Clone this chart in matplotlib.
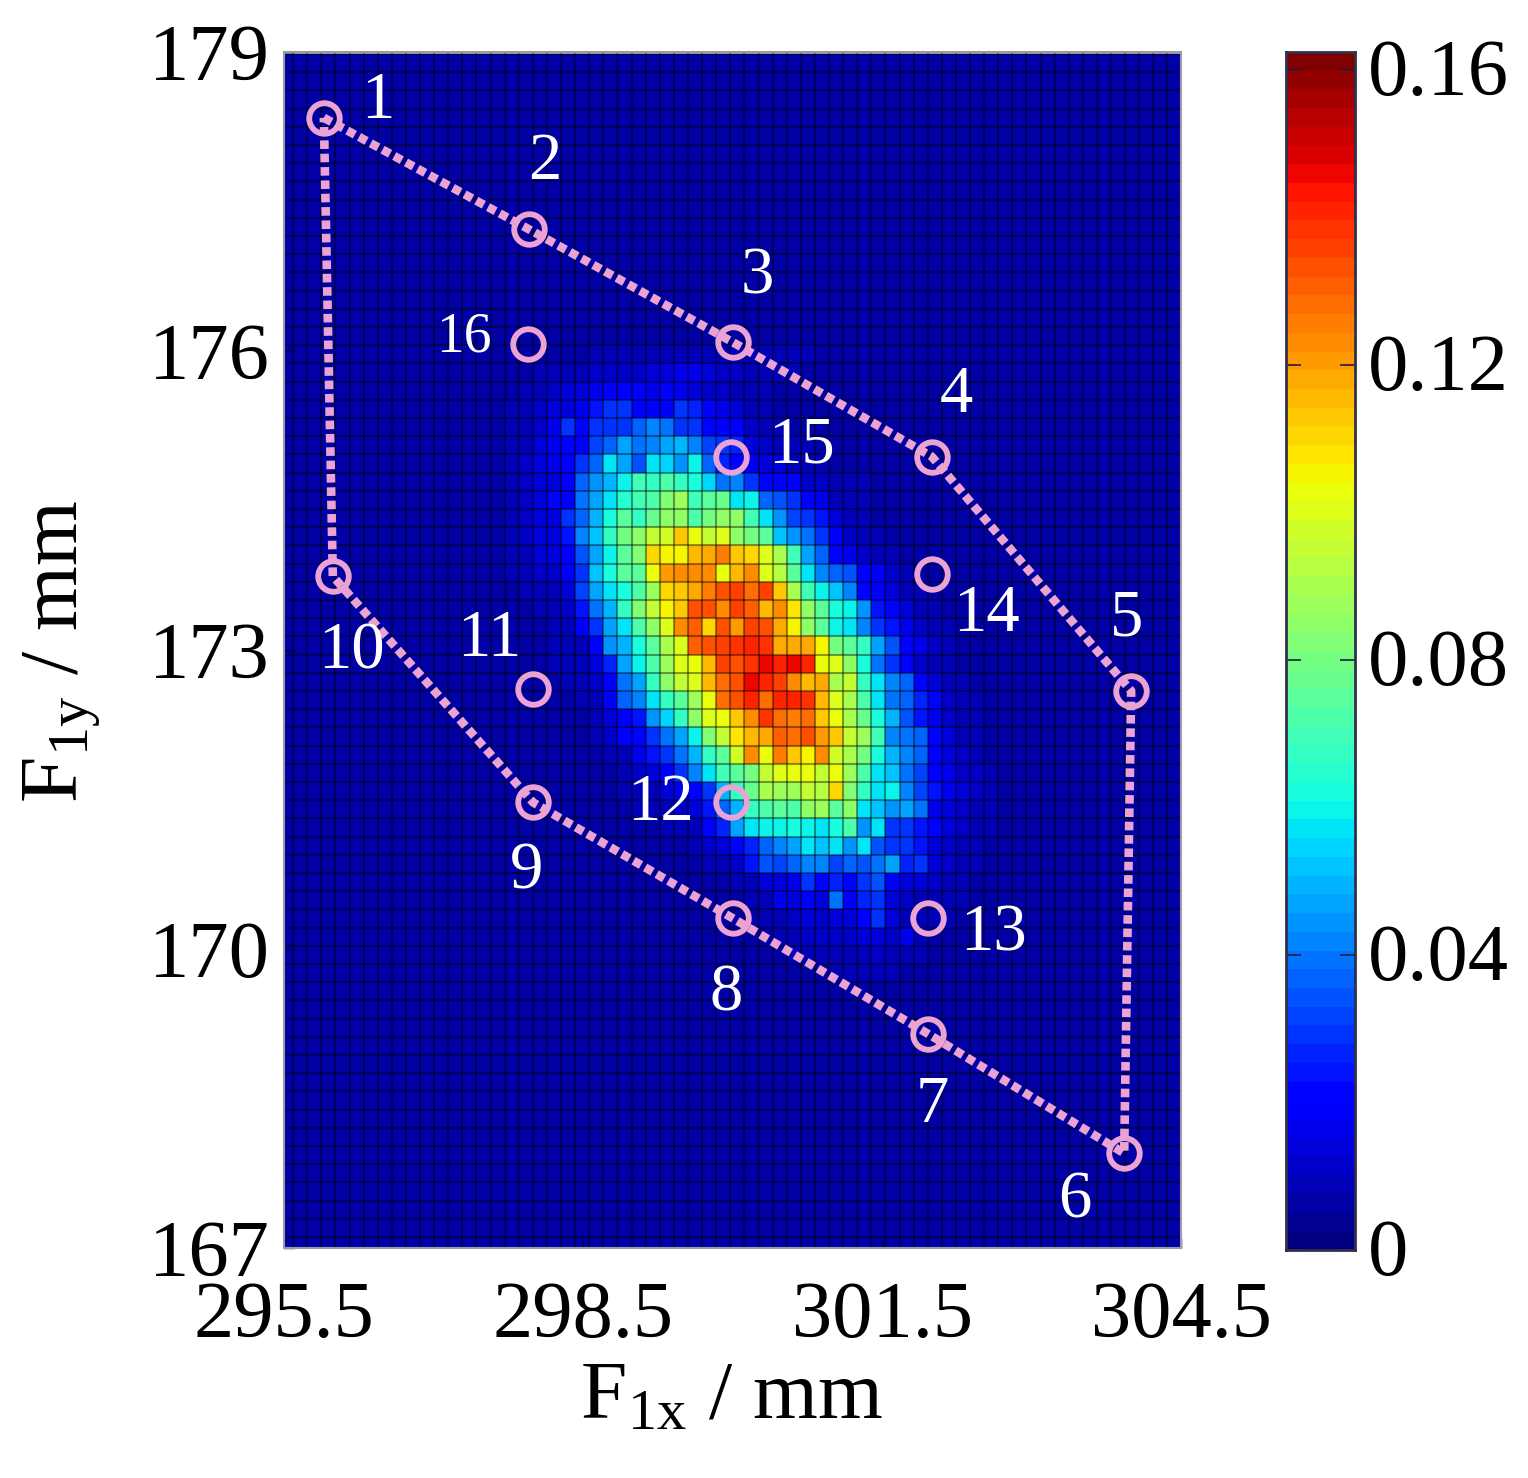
#!/usr/bin/env python3
import numpy as np
import matplotlib
matplotlib.use("Agg")
import matplotlib.pyplot as plt
from matplotlib.transforms import ScaledTranslation

W, H = 1528, 1478
PINK = "#eba3d3"

# measured points, numbered 1..16
node_x = [295.90, 297.96, 300.00, 302.00, 304.00, 303.93, 301.96, 300.00,
          298.00, 295.99, 298.00, 299.98, 301.96, 302.00, 299.98, 297.95]
node_y = [178.34, 177.22, 176.09, 174.94, 172.59, 167.95, 169.15, 170.31,
          171.47, 173.74, 172.61, 171.47, 170.31, 173.76, 174.94, 176.07]
outline_count = 10

x_ticks = [295.5, 298.5, 301.5, 304.5]
x_tick_labels = ["295.5", "298.5", "301.5", "304.5"]
y_ticks = [167, 170, 173, 176, 179]
cbar_ticks = [0, 0.04, 0.08, 0.12, 0.16]
cbar_tick_labels = ["0", "0.04", "0.08", "0.12", "0.16"]

color_max = 0.1624
background = 6  # value of all cells away from the blob, in 1e-3

# probability per cell in 1e-3 (top to bottom)
blob_rows = [
    [6,6,6,6,6,6, 7,7,7,8,8,8,9,9,9,9,10,10,10,10,10,9,9,8,8, 6,6,6,6,6,6,6, 6,6,6,6,6,6,6],
    [6,6,6,7,7,8, 10,10,10,11,12,12,12,14,14,16,16,14,12,12,10,9,8,8,7, 6,6,6,6,6,6,6, 6,6,6,6,6,6,6],
    [6,6,7,7,8,10, 12,14,15,16,20,20,18,16,18,16,14,12,12,10,8,8,7,7,6, 6,6,6,6,6,6,6, 6,6,6,6,6,6,6],
    [6,6,7,8,9,11, 14,15,16,25,28,30,18,18,20,28,26,18,16,14,10,8,7,7,6, 6,6,6,6,6,6,6, 6,6,6,6,6,6,6],
    [6,6,7,8,10,12, 16,28,22,30,30,30,36,42,40,28,28,22,20,20,12,9,8,7,7, 6,6,6,6,6,6,6, 6,6,6,6,6,6,6],
    [6,6,7,8,10,13, 16,22,20,32,36,48,40,42,46,50,42,32,30,26,14,12,10,8,8, 7,7,6,6,6,6,6, 6,6,6,6,6,6,6],
    [6,6,7,8,11,14, 16,18,28,38,56,46,34,58,54,44,60,36,26,22,16,14,14,10,10, 8,7,6,6,6,6,6, 6,6,6,6,6,6,6],
    [6,6,7,9,11,14, 14,18,36,44,50,60,70,66,72,66,62,54,40,42,28,22,20,18,12, 12,10,8,8,7,7,6, 6,6,6,6,6,6,6],
    [6,6,7,9,12,14, 22,20,40,48,56,64,70,72,82,88,70,76,78,56,60,36,34,28,18, 16,10,8,8,7,7,6, 6,6,6,6,6,6,6],
    [6,6,7,9,11,14, 15,28,38,50,62,76,68,78,84,84,72,80,86,86,70,58,44,32,28, 24,14,10,8,7,7,6, 6,6,6,6,6,6,6],
    [6,6,7,8,11,14, 15,24,42,52,66,80,86,94,98,112,104,96,100,86,80,74,52,44,40, 28,18,12,10,8,7,7, 6,6,6,6,6,6,6],
    [6,6,6,8,10,13, 15,20,34,46,60,76,82,110,106,106,116,118,126,114,110,100,90,70,48, 38,22,16,12,10,8,7, 6,6,6,6,6,6,6],
    [6,6,6,8,9,12, 12,18,28,52,62,76,76,104,120,124,122,122,102,116,122,100,92,76,58, 42,36,34,18,18,12,8, 7,6,6,6,6,6,6],
    [6,6,6,7,8,10, 10,14,32,46,58,62,72,88,110,112,118,126,134,136,128,136,112,90,70, 60,52,42,22,20,14,10, 8,7,6,6,6,6,6],
    [6,6,6,6,7,8, 8,12,24,40,50,66,82,94,106,114,132,134,122,136,130,116,124,108,86, 74,62,60,44,24,22,14, 10,8,7,6,6,6,6],
    [6,6,6,6,6,7, 8,10,20,28,48,58,72,84,100,124,130,110,134,120,136,132,118,105,84, 76,60,56,42,28,24,16, 12,9,8,6,6,6,6],
    [6,6,6,6,6,7, 8,8,10,18,44,50,62,76,90,100,130,134,136,138,140,138,118,118,118, 106,80,76,66,46,34,20, 16,11,8,6,6,6,6],
    [6,6,6,6,6,6, 8,8,8,14,26,46,60,72,88,100,104,116,136,132,138,146,140,146,140, 104,100,84,62,40,28,18, 12,10,8,7,6,6,6],
    [6,6,6,6,6,6, 6,8,8,12,18,40,48,68,84,94,100,116,128,132,146,140,136,122,116, 118,90,94,68,56,42,36, 18,14,10,8,7,6,6],
    [6,6,6,6,6,6, 6,6,8,10,20,38,42,58,66,74,88,104,128,134,140,128,140,140,138, 116,100,90,72,58,40,36, 26,22,12,9,8,6,6],
    [6,6,6,6,6,6, 6,6,7,8,14,20,24,44,54,66,84,100,102,112,124,138,128,126,128, 112,102,90,78,62,50,34, 24,16,12,9,8,6,6],
    [6,6,6,6,6,6, 6,6,6,8,12,18,22,28,40,48,60,82,96,108,116,118,130,128,134, 120,112,94,88,70,42,40, 38,22,14,10,8,7,6],
    [6,6,6,6,6,6, 6,6,6,6,8,10,16,24,30,40,50,68,74,98,122,104,126,112,106, 122,98,90,80,62,50,42, 36,20,14,11,10,7,6],
    [6,6,6,6,6,6, 6,6,6,6,7,10,12,14,20,28,42,58,70,74,80,94,100,104,102, 96,102,88,72,58,52,40, 32,20,16,12,12,10,7],
    [6,6,6,6,6,6, 6,6,6,6,6,8,10,10,14,16,22,30,50,66,78,90,88,88,96, 92,110,82,66,58,60,42, 32,24,16,14,12,10,7],
    [6,6,6,6,6,6, 6,6,6,6,6,7,8,8,10,12,14,24,38,50,66,72,76,72,84, 88,76,84,58,52,44,48, 40,16,14,12,10,8,6],
    [6,6,6,6,6,6, 6,6,6,6,6,6,6,7,8,8,10,22,26,46,58,60,60,62,60, 58,62,72,44,56,30,28, 24,20,14,12,10,8,6],
    [6,6,6,6,6,6, 6,6,6,6,6,6,6,6,6,7,8,12,14,22,26,36,42,48,56, 52,56,44,58,34,30,28, 24,14,12,9,8,7,6],
    [6,6,6,6,6,6, 6,6,6,6,6,6,6,6,6,6,6,8,8,12,24,34,32,36,42, 42,32,36,34,40,46,26, 30,14,12,10,8,7,6],
    [6,6,6,6,6,6, 6,6,6,6,6,6,6,6,6,6,6,7,7,8,10,14,14,16,30, 18,26,22,30,34,20,14, 14,12,10,8,7,6,6],
    [6,6,6,6,6,6, 6,6,6,6,6,6,6,6,6,6,6,6,6,7,8,10,16,14,18, 14,40,18,26,28,14,12, 10,10,9,8,7,6,6],
    [6,6,6,6,6,6, 6,6,6,6,6,6,6,6,6,6,6,6,6,6,7,8,10,12,14, 12,14,14,20,28,14,10, 8,8,8,7,6,6,6],
    [6,6,6,6,6,6, 6,6,6,6,6,6,6,6,6,6,6,6,6,6,6,7,8,10,12, 11,12,12,14,14,12,16, 8,7,7,6,6,6,6],
    [6,6,6,6,6,6, 6,6,6,6,6,6,6,6,6,6,6,6,6,6,6,6,7,8,9, 9,10,10,10,11,10,8, 8,7,6,6,6,6,6],
    [6,6,6,6,6,6, 6,6,6,6,6,6,6,6,6,6,6,6,6,6,6,6,6,6,7, 7,8,8,8,8,8,7, 7,6,6,6,6,6,6],
]

# where each number sits relative to its point, in pixels
label_offsets = [(54, 16), (16, 67), (25, 65), (25, 61), (-5, 72), (-49, -48),
                 (4, -72), (-6, -76), (-7, -70), (19, -76), (-44, 49), (-70, -1),
                 (66, -16), (55, -40), (71, 11), (-64, 7)]


def px_axes(fig, left, top, right, bottom):
    return fig.add_axes([left / W, 1 - bottom / H, (right - left) / W, (bottom - top) / H])


plt.rcParams["font.family"] = ["Liberation Serif", "DejaVu Serif"]
plt.rcParams["mathtext.fontset"] = "custom"
plt.rcParams["mathtext.rm"] = "Liberation Serif"
plt.rcParams["mathtext.it"] = "Liberation Serif:italic"
plt.rcParams["mathtext.bf"] = "Liberation Serif:bold"

fig = plt.figure(figsize=(W / 100, H / 100), dpi=100)
ax = px_axes(fig, 284, 52, 1181, 1248)

# cell grid: 64 x 66, the blob block starts at row 16, column 13
grid = np.full((66, 64), background, dtype=float)
blob = np.array(blob_rows, dtype=int)
grid[16:16 + blob.shape[0], 13:13 + blob.shape[1]] = blob
grid = grid / 1000.0

x_edges = 295.45 + 0.1415 * np.arange(65)
y_edges = 178.98 - 0.1826 * np.arange(67)
cmap = plt.get_cmap("jet", 64)
ax.pcolormesh(x_edges, y_edges, grid, cmap=cmap, vmin=0, vmax=color_max, linewidth=0, rasterized=True)
ax.vlines(x_edges, 167, 179, color="k", lw=1.5, alpha=0.4, zorder=2)
ax.hlines(y_edges, 295.5, 304.5, color="k", lw=1.5, alpha=0.4, zorder=2)

ax.set_xlim(295.5, 304.5)
ax.set_ylim(167, 179)
ax.set_xticks(x_ticks)
ax.set_xticklabels(x_tick_labels)
ax.set_yticks(y_ticks)
ax.tick_params(axis="x", direction="in", length=7, width=1, labelsize=58, pad=24, color="#000050")
ax.tick_params(axis="y", direction="in", length=7, width=1, labelsize=58, pad=10, color="#000050")
for s in ax.spines.values():
    s.set_color("#9a9aa8")
    s.set_linewidth(1.5)

# hexagon outline through points 1..10, then all the circles
ox = node_x[:outline_count] + node_x[:1]
oy = node_y[:outline_count] + node_y[:1]
ax.plot(ox, oy, color=PINK, lw=6.2, ls=(0, (1, 0.55)), zorder=3)
ax.plot(node_x, node_y, ls="none", marker="o", ms=22, mew=4.2, mfc="none", mec=PINK, zorder=4)

for i, (nx, ny) in enumerate(zip(node_x, node_y)):
    size = 40 if i == 15 else 48
    ax.annotate(str(i + 1), (nx, ny), xytext=label_offsets[i], textcoords="offset pixels",
                color="white", fontsize=size, ha="center", va="center", zorder=5)

# colorbar
cax = px_axes(fig, 1286, 52, 1355, 1250)
levels = np.linspace(0, color_max, 65)
cax.pcolormesh([0, 1], levels, ((levels[:-1] + levels[1:]) / 2)[:, None], cmap=cmap, vmin=0, vmax=color_max)
cax.set_xticks([])
cax.set_yticks(cbar_ticks)
cax.set_yticklabels(cbar_tick_labels)
cax.set_ylim(0, color_max)
cax.tick_params(axis="y", direction="in", length=11, width=1.2, labelsize=58, pad=9,
                left=True, right=True, labelleft=False, labelright=True, color="#202040")
for s in cax.spines.values():
    s.set_color("#30304a")
    s.set_linewidth(2)
# labels sit a little higher than the ticks
nudge = ScaledTranslation(0, 3 / 100, fig.dpi_scale_trans)
for lab in cax.get_yticklabels():
    lab.set_transform(lab.get_transform() + nudge)

fig.text(731 / W, 1 - 1398 / H, r"F$_{\mathrm{1x}}$ / mm", fontsize=60, ha="center", va="center")
fig.text(62 / W, 1 - 652 / H, r"F$_{\mathrm{1y}}$ / mm", fontsize=60, ha="center", va="center", rotation=90)

fig.savefig("out.png", dpi=100, facecolor="white")
